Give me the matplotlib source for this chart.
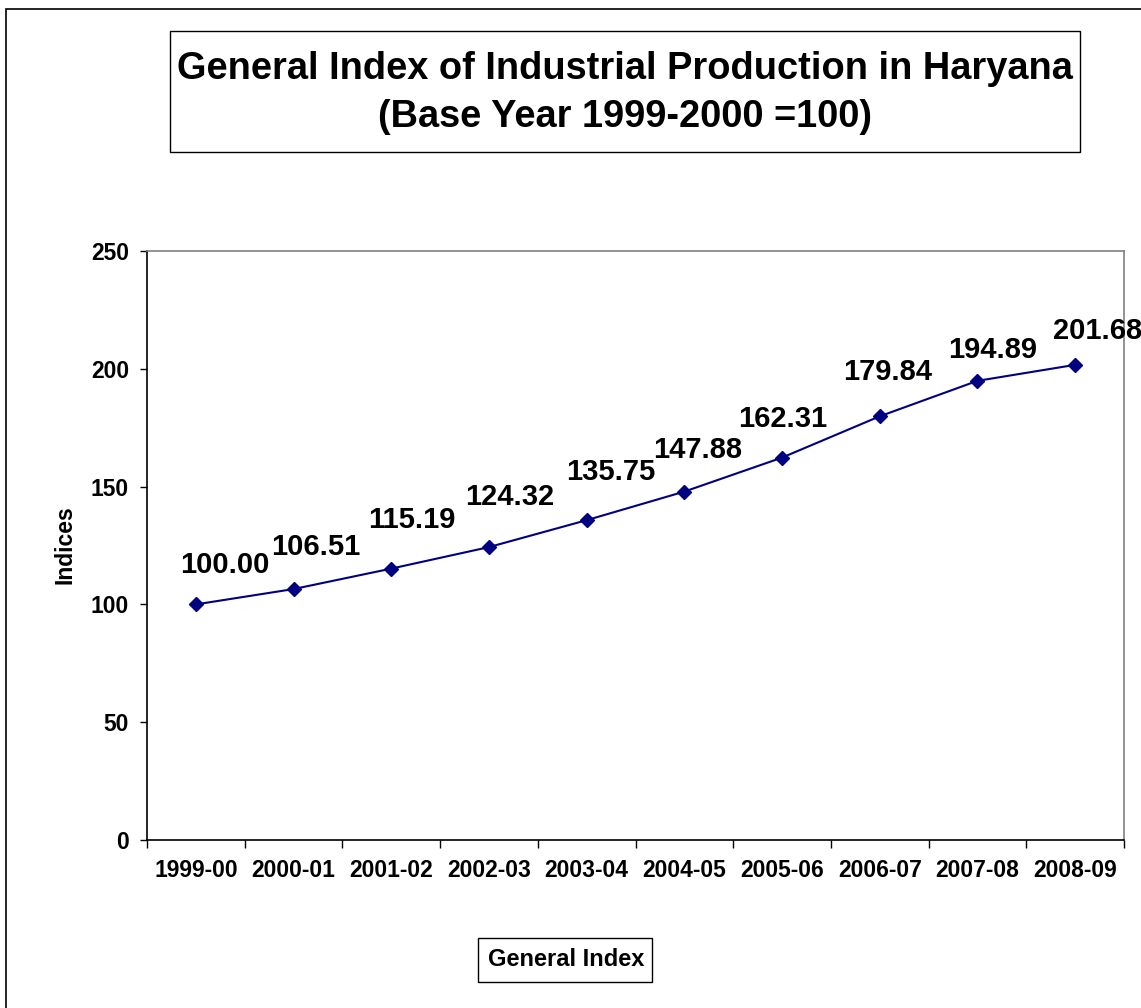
import matplotlib
matplotlib.use("Agg")
import matplotlib.pyplot as plt
from matplotlib.patches import Rectangle
import numpy as np

plt.rcParams['font.family'] = ['Liberation Sans', 'DejaVu Sans']
plt.rcParams['font.weight'] = 'bold'

years = ["1999-00", "2000-01", "2001-02", "2002-03", "2003-04",
         "2004-05", "2005-06", "2006-07", "2007-08", "2008-09"]
general_index = [100.00, 106.51, 115.19, 124.32, 135.75,
                 147.88, 162.31, 179.84, 194.89, 201.68]
yticks = [0, 50, 100, 150, 200, 250]

# label offsets in pixels (dx, dy up)
lab_dx = [29, 22, 21, 21, 24, 13, 1, 8, 15, 22]
lab_dy = [39, 42, 49, 50, 48, 42, 39, 44, 31, 34]

W, H, DPI = 1141, 1008, 100
fig = plt.figure(figsize=(W / DPI, H / DPI), dpi=DPI)
px2pt = 72.0 / DPI

def fx(x):
    return x / W

def fy(y):
    return 1 - y / H

# outer border
fig.patches.append(Rectangle((fx(6), fy(1020)), fx(1160) - fx(6), fy(9) - fy(1020),
                             transform=fig.transFigure, fill=False,
                             edgecolor='black', linewidth=1.2))

# title box
fig.patches.append(Rectangle((fx(170), fy(152)), fx(1080) - fx(170), fy(31) - fy(152),
                             transform=fig.transFigure, fill=False,
                             edgecolor='black', linewidth=1.0))
fig.text(fx(625), fy(69), "General Index of Industrial Production in Haryana",
         ha='center', va='center', fontsize=27.4, fontweight='bold')
fig.text(fx(625), fy(117), "(Base Year 1999-2000 =100)",
         ha='center', va='center', fontsize=27.4, fontweight='bold')

ax = fig.add_axes([fx(147), fy(840), fx(1124) - fx(147), fy(251) - fy(840)])
x = np.arange(len(years))
ax.plot(x, general_index, color='#000080', linewidth=1.5, marker='D',
        markersize=7, markerfacecolor='#000080', markeredgecolor='#000080')

for xi, v, dx, dy in zip(x, general_index, lab_dx, lab_dy):
    ax.annotate(f"{v:.2f}", (xi, v), xytext=(dx * px2pt, dy * px2pt),
                textcoords='offset points', ha='center', va='center',
                fontsize=21, fontweight='bold', annotation_clip=False,
                clip_on=False)

ax.set_xlim(-0.5, len(years) - 0.5)
ax.set_ylim(0, 250)
ax.set_yticks(yticks)
ax.set_yticklabels([str(t) for t in yticks], fontsize=16.5, fontweight='bold')
ax.set_xticks(x)
ax.set_xticklabels(years, fontsize=16.5, fontweight='bold')
ax.set_xticks(np.arange(-0.5, len(years), 1.0), minor=True)
ax.tick_params(axis='x', which='major', length=0, pad=14)
ax.tick_params(axis='x', which='minor', length=6, width=1, direction='out')
ax.tick_params(axis='y', length=5, width=1, direction='out', pad=8)

for s in ['top', 'right']:
    ax.spines[s].set_color('#808080')
    ax.spines[s].set_linewidth(1.2)
for s in ['left', 'bottom']:
    ax.spines[s].set_color('black')
    ax.spines[s].set_linewidth(1.2)

fig.text(fx(65), fy(545), "Indices", rotation=90, ha='center', va='center',
         fontsize=16.5, fontweight='bold')

# legend box
fig.patches.append(Rectangle((fx(478), fy(982)), fx(652) - fx(478), fy(938) - fy(982),
                             transform=fig.transFigure, fill=False,
                             edgecolor='black', linewidth=1.0))
fig.text(fx(566), fy(960), "General Index", ha='center', va='center',
         fontsize=17, fontweight='bold')

fig.savefig("out.png", dpi=DPI)
